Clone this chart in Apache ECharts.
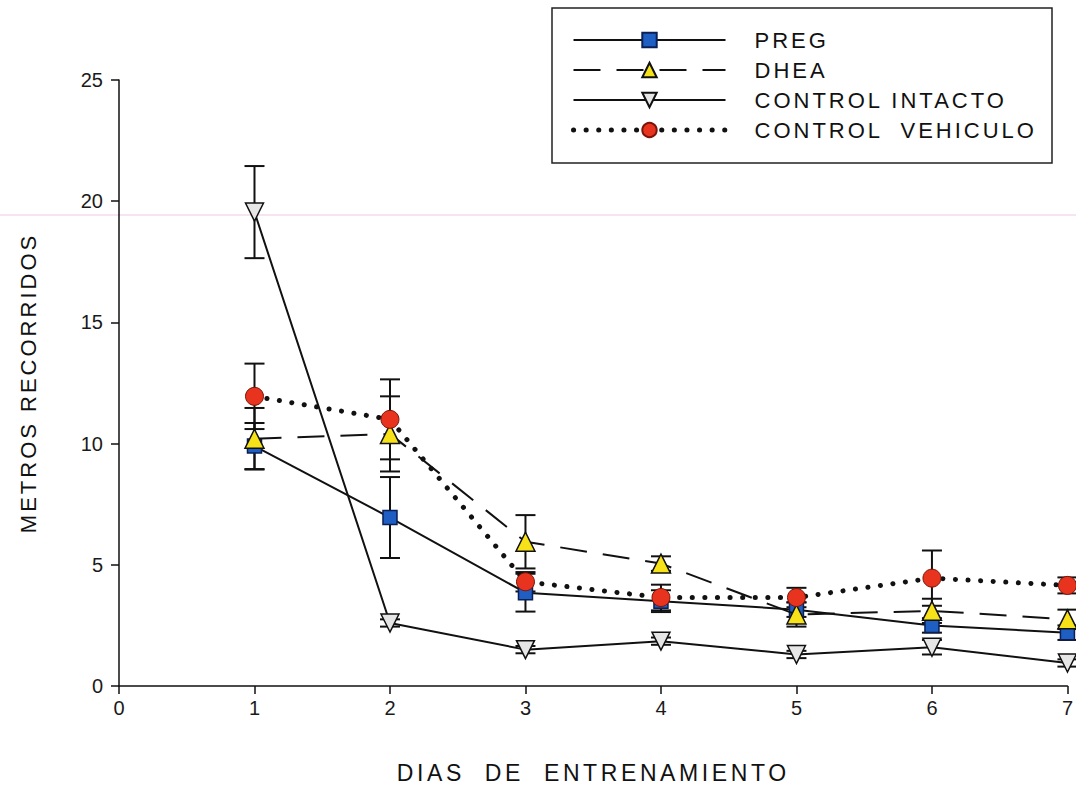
<!DOCTYPE html>
<html>
<head>
<meta charset="utf-8">
<script src="https://cdn.jsdelivr.net/npm/echarts@6/dist/echarts.min.js"></script>
<style>
html,body{margin:0;padding:0;background:#fff;}
#chart{width:1076px;height:789px;}
#chart text[style*="22px"], #chart text[font-size="22"], #chart text[font-size="22px"]{letter-spacing:3px;}
#chart text[style*="23px"], #chart text[font-size="23"], #chart text[font-size="23px"]{letter-spacing:3.6px;}
</style>
</head>
<body>
<div id="chart"></div>
<script>
const days = [1, 2, 3, 4, 5, 6, 7];
const xTicks = [0, 1, 2, 3, 4, 5, 6, 7];
const yTicks = [0, 5, 10, 15, 20, 25];
const seriesNames = ['PREG', 'DHEA', 'CONTROL INTACTO', 'CONTROL  VEHICULO'];
const preg = [9.9, 6.95, 3.85, 3.5, 3.15, 2.5, 2.2];
const pregErr = [0.95, 1.67, 0.78, 0.45, 0.3, 0.3, 0.3];
const dhea = [10.2, 10.4, 5.95, 5.05, 2.95, 3.1, 2.75];
const dheaErr = [1.27, 1.55, 1.1, 0.3, 0.5, 0.5, 0.4];
const intacto = [19.55, 2.6, 1.5, 1.85, 1.3, 1.6, 0.95];
const intactoErr = [1.9, 0.15, 0.15, 0.15, 0.15, 0.3, 0.15];
const vehiculo = [11.95, 11.0, 4.3, 3.65, 3.65, 4.45, 4.15];
const vehiculoErr = [1.35, 1.65, 0.4, 0.53, 0.4, 1.14, 0.33];

const chart = echarts.init(document.getElementById('chart'), null, { renderer: 'svg' });
const FONT = 'Liberation Sans, Arial, sans-serif';

function pairs(vals) { return days.map((d, i) => [d, vals[i]]); }
function errData(vals, errs) { return days.map((d, i) => [d, vals[i] - errs[i], vals[i] + errs[i]]); }

function errorSeries(vals, errs) {
  return {
    type: 'custom',
    z: 1,
    silent: true,
    data: errData(vals, errs),
    renderItem: function (params, api) {
      const x = api.value(0);
      const lo = api.coord([x, api.value(1)]);
      const hi = api.coord([x, api.value(2)]);
      const hw = 10;
      const style = { stroke: '#111', lineWidth: 2 };
      return {
        type: 'group',
        children: [
          { type: 'line', shape: { x1: lo[0], y1: lo[1], x2: hi[0], y2: hi[1] }, style: style },
          { type: 'line', shape: { x1: lo[0] - hw, y1: lo[1], x2: lo[0] + hw, y2: lo[1] }, style: style },
          { type: 'line', shape: { x1: hi[0] - hw, y1: hi[1], x2: hi[0] + hw, y2: hi[1] }, style: style }
        ]
      };
    }
  };
}

const dotted = { color: '#111', width: 5, type: [0.1, 12.5], cap: 'round' };

const option = {
  backgroundColor: '#ffffff',
  animation: false,
  grid: { left: 119, top: 80, right: 3, bottom: 97, containLabel: false },
  graphic: [
    { type: 'line', z: 0, shape: { x1: 0, y1: 215, x2: 1076, y2: 215 }, style: { stroke: '#efc9e6', lineWidth: 1 } },
    { type: 'rect', z: 100, shape: { x: 552, y: 8, width: 500, height: 155 }, style: { fill: 'rgba(0,0,0,0)', stroke: '#222', lineWidth: 1.5 } }
  ],
  legend: {
    orient: 'vertical',
    left: 566,
    top: 24,
    itemWidth: 152,
    itemHeight: 18,
    itemGap: 8,
    data: [
      { name: seriesNames[0] },
      { name: seriesNames[1] },
      { name: seriesNames[2] },
      { name: seriesNames[3], lineStyle: dotted }
    ],
    textStyle: { fontFamily: FONT, fontSize: 22, color: '#111', padding: [0, 0, 0, 24] }
  },
  xAxis: {
    type: 'value',
    min: 0, max: 7, interval: 1,
    name: 'DIAS  DE  ENTRENAMIENTO',
    nameLocation: 'middle',
    nameGap: 75,
    nameTextStyle: { fontFamily: FONT, fontSize: 23, color: '#111' },
    axisLine: { show: true, lineStyle: { color: '#111', width: 1.5 } },
    axisTick: { show: true, inside: false, length: 8, lineStyle: { color: '#111', width: 1.5 } },
    axisLabel: { fontFamily: FONT, fontSize: 20, color: '#1a1a1a', margin: 12, showMaxLabel: true,
      formatter: v => xTicks.indexOf(v) >= 0 ? String(v) : '' },
    splitLine: { show: false }
  },
  yAxis: {
    type: 'value',
    min: 0, max: 25, interval: 5,
    name: 'METROS RECORRIDOS',
    nameLocation: 'middle',
    nameGap: 80,
    nameRotate: 90,
    nameTextStyle: { fontFamily: FONT, fontSize: 22, color: '#111' },
    axisLine: { show: true, lineStyle: { color: '#111', width: 1.5 } },
    axisTick: { show: true, inside: false, length: 8, lineStyle: { color: '#111', width: 1.5 } },
    axisLabel: { fontFamily: FONT, fontSize: 20, color: '#1a1a1a', margin: 16,
      formatter: v => yTicks.indexOf(v) >= 0 ? String(v) : '' },
    splitLine: { show: false }
  },
  series: [
    errorSeries(preg, pregErr),
    errorSeries(dhea, dheaErr),
    errorSeries(intacto, intactoErr),
    errorSeries(vehiculo, vehiculoErr),
    {
      name: seriesNames[0], type: 'line', z: 3, data: pairs(preg),
      symbol: 'rect', symbolSize: 14,
      lineStyle: { color: '#111', width: 2, type: 'solid' },
      itemStyle: { color: '#1f5fc4', borderColor: '#0b1f55', borderWidth: 1.5 }
    },
    {
      name: seriesNames[1], type: 'line', z: 4, data: pairs(dhea),
      symbol: 'triangle', symbolSize: 19,
      lineStyle: { color: '#111', width: 2, type: [27, 16] },
      itemStyle: { color: '#f7e21a', borderColor: '#111', borderWidth: 1.5 }
    },
    {
      name: seriesNames[2], type: 'line', z: 3, data: pairs(intacto),
      symbol: 'triangle', symbolRotate: 180, symbolSize: 18,
      lineStyle: { color: '#111', width: 2, type: 'solid' },
      itemStyle: { color: '#e6e6e6', borderColor: '#111', borderWidth: 1.5 }
    },
    {
      name: seriesNames[3], type: 'line', z: 5, data: pairs(vehiculo),
      symbol: 'circle', symbolSize: 18,
      lineStyle: dotted,
      itemStyle: { color: '#e8331f', borderColor: '#7a1508', borderWidth: 1 }
    }
  ]
};
chart.setOption(option);
</script>
</body>
</html>
